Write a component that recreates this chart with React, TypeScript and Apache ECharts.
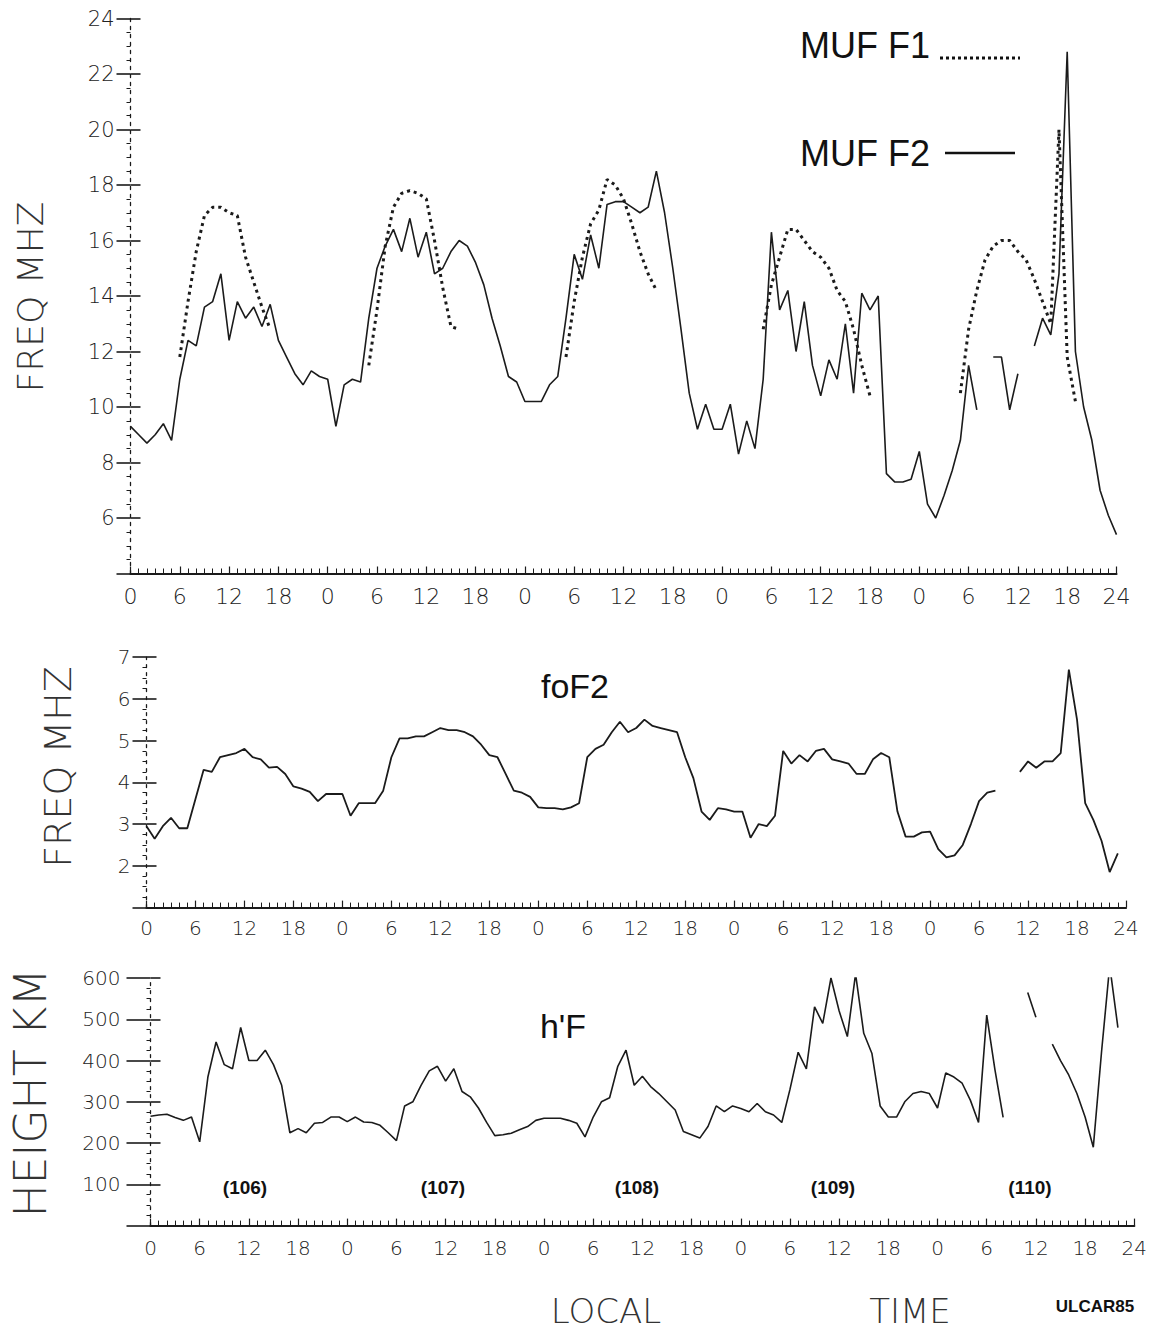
import React, { useEffect, useRef } from "react";
import * as echarts from "echarts";

// hour index 0..120 (five days of local time)
const HOURS: number[] = Array.from({ length: 121 }, (_, i) => i);

// MUF F2 (solid), MHz
const MUF_F2: (number | null)[] = [
  9.3, 9.0, 8.7, 9.0, 9.4, 8.8, 11.0, 12.4, 12.2, 13.6, 13.8, 14.8, 12.4, 13.8, 13.2, 13.6, 12.9, 13.7, 12.4, 11.8, 11.2, 10.8, 11.3, 11.1,
  11.0, 9.3, 10.8, 11.0, 10.9, 13.2, 15.0, 15.8, 16.4, 15.6, 16.8, 15.4, 16.3, 14.8, 15.0, 15.6, 16.0, 15.8, 15.2, 14.4, 13.2, 12.2, 11.1, 10.9,
  10.2, 10.2, 10.2, 10.8, 11.1, 13.2, 15.5, 14.6, 16.2, 15.0, 17.3, 17.4, 17.4, 17.2, 17.0, 17.2, 18.5, 17.0, 15.0, 12.8, 10.5, 9.2, 10.1, 9.2,
  9.2, 10.1, 8.3, 9.5, 8.5, 11.0, 16.3, 13.5, 14.2, 12.0, 13.8, 11.5, 10.4, 11.7, 11.0, 13.0, 10.5, 14.1, 13.5, 14.0, 7.6, 7.3, 7.3, 7.4,
  8.4, 6.5, 6.0, 6.8, 7.7, 8.8, 11.5, 9.9, null, 11.8, 11.8, 9.9, 11.2, null, 12.2, 13.2, 12.6, 14.8, 22.8, 12.0, 10.0, 8.8, 7.0, 6.1, 5.4,
];

// MUF F1 (dotted), MHz
const MUF_F1: (number | null)[] = [
  null, null, null, null, null, null, 11.8, 13.8, 15.6, 16.9, 17.2, 17.2, 17.0, 16.9, 15.4, 14.5, 13.6, 12.8, null, null, null, null, null, null,
  null, null, null, null, null, 11.5, 13.5, 15.8, 17.2, 17.7, 17.8, 17.7, 17.5, 16.0, 14.3, 12.9, 12.8, null, null, null, null, null, null, null,
  null, null, null, null, null, 11.8, 13.8, 15.4, 16.6, 17.1, 18.2, 18.0, 17.5, 16.6, 15.6, 14.8, 14.2, null, null, null, null, null, null, null,
  null, null, null, null, null, 12.8, 14.4, 15.4, 16.4, 16.4, 16.0, 15.6, 15.4, 15.0, 14.2, 13.8, 12.8, 11.5, 10.4, null, null, null, null, null,
  null, null, null, null, null, 10.5, 12.8, 14.2, 15.3, 15.8, 16.0, 16.0, 15.6, 15.3, 14.6, 13.8, 13.0, 20.0, 11.8, 10.2, null, null, null, null, null,
];

// foF2, MHz
const FOF2: (number | null)[] = [
  2.95, 2.65, 2.95, 3.15, 2.9, 2.9, 3.6, 4.3, 4.25, 4.6, 4.65, 4.7, 4.8, 4.6, 4.55, 4.35, 4.37, 4.2, 3.9, 3.85, 3.77, 3.55, 3.72, 3.72,
  3.72, 3.2, 3.5, 3.5, 3.5, 3.8, 4.6, 5.05, 5.05, 5.1, 5.1, 5.2, 5.3, 5.25, 5.25, 5.2, 5.1, 4.9, 4.65, 4.6, 4.2, 3.8, 3.75, 3.65,
  3.4, 3.38, 3.38, 3.35, 3.4, 3.5, 4.6, 4.8, 4.9, 5.2, 5.45, 5.2, 5.3, 5.5, 5.35, 5.3, 5.25, 5.2, 4.6, 4.1, 3.3, 3.1, 3.38, 3.35,
  3.3, 3.3, 2.67, 3.0, 2.95, 3.2, 4.75, 4.45, 4.65, 4.5, 4.75, 4.8, 4.55, 4.5, 4.45, 4.2, 4.2, 4.55, 4.7, 4.6, 3.3, 2.7, 2.7, 2.8,
  2.82, 2.4, 2.2, 2.25, 2.5, 3.0, 3.55, 3.75, 3.8, null, null, 4.25, 4.5, 4.35, 4.5, 4.5, 4.7, 6.7, 5.5, 3.5, 3.1, 2.6, 1.85, 2.3, null,
];

// h'F, km
const HPF: (number | null)[] = [
  265, 268, 270, 262, 255, 263, 203, 360, 445, 390, 380, 480, 400, 400, 425, 390, 340, 225, 235, 225, 248, 250, 263, 263,
  252, 263, 251, 250, 243, 225, 206, 290, 300, 340, 375, 386, 350, 380, 325, 312, 285, 250, 218, 220, 224, 232, 240, 255,
  260, 260, 260, 255, 248, 215, 263, 300, 310, 386, 425, 340, 362, 337, 320, 300, 280, 228, 220, 212, 240, 290, 276, 290,
  284, 276, 296, 276, 268, 250, 330, 420, 380, 530, 490, 600, 520, 458, 610, 466, 417, 290, 263, 263, 300, 320, 325, 320,
  285, 370, 360, 345, 304, 250, 510, 378, 262, null, null, 565, 505, null, 440, 400, 365, 320, 263, 190, 420, 630, 480, null, null,
];

const DAY_NUMBERS = ["(106)", "(107)", "(108)", "(109)", "(110)"];

const INK = "#1b1b1b";
const THIN_FONT = "DejaVu Sans";

function pairs(vals: (number | null)[]) {
  return HOURS.map((h, i) => [h, vals[i] == null ? "-" : vals[i]]);
}

function xAxis(gridIndex: number, fontSize: number, margin: number) {
  return {
    type: "value",
    gridIndex,
    min: 0,
    max: 120,
    interval: 6,
    axisLine: { show: true, lineStyle: { color: INK, width: 2.2 } },
    axisTick: { show: true, inside: true, length: 7, lineStyle: { color: INK, width: 1.2 } },
    minorTick: { show: true, splitNumber: 6, length: 5, lineStyle: { color: INK, width: 1 } },
    splitLine: { show: false },
    axisLabel: {
      fontFamily: THIN_FONT,
      fontWeight: 200,
      fontSize,
      color: "#222",
      margin,
      formatter: (v: number) => (v === 120 ? "24" : String(v % 24)),
    },
  };
}

function yAxis(
  gridIndex: number,
  min: number,
  max: number,
  interval: number,
  fontSize: number,
  tickLen: number,
  margin: number
) {
  return {
    type: "value",
    gridIndex,
    min,
    max,
    interval,
    axisLine: { show: true, lineStyle: { color: INK, width: 1.3, type: [3, 5] } },
    axisTick: { show: true, inside: false, length: tickLen, lineStyle: { color: INK, width: 1.6 } },
    minorTick: { show: true, splitNumber: 4, length: 4, lineStyle: { color: INK, width: 1 } },
    splitLine: { show: false },
    axisLabel: {
      fontFamily: THIN_FONT,
      fontWeight: 200,
      fontSize,
      color: "#222",
      margin,
      formatter: (v: number) => (v === min ? "" : String(v)),
    },
  };
}

function inTick(gridIndex: number, min: number, max: number, interval: number) {
  return {
    type: "value",
    gridIndex,
    min,
    max,
    interval,
    position: "left",
    axisLine: { show: false },
    axisTick: { show: true, inside: true, length: 10, lineStyle: { color: INK, width: 1.6 } },
    axisLabel: { show: false },
    splitLine: { show: false },
  };
}

export default function App() {
  const ref = useRef<HTMLDivElement>(null);

  useEffect(() => {
    if (!ref.current) return;
    const chart = echarts.init(ref.current, undefined, { renderer: "svg" });

    const dayTextX = [245, 443, 637, 833, 1030];

    const option: any = {
      animation: false,
      backgroundColor: "#ffffff",
      grid: [
        { left: 130.5, right: 44.5, top: 18.5, bottom: 758.5 },
        { left: 146.5, right: 35, top: 657, bottom: 424.4 },
        { left: 150.5, right: 26.7, top: 978, bottom: 106.4 },
      ],
      xAxis: [xAxis(0, 22, 12), xAxis(1, 20, 10), xAxis(2, 20, 12)],
      yAxis: [
        yAxis(0, 4, 24, 2, 21, 14, 16),
        yAxis(1, 1, 7, 1, 20, 14, 16),
        yAxis(2, 0, 600, 100, 20, 24, 30),
        inTick(0, 4, 24, 2),
        inTick(1, 1, 7, 1),
        inTick(2, 0, 600, 100),
      ],
      series: [
        {
          name: "MUF F2",
          type: "line",
          xAxisIndex: 0,
          yAxisIndex: 0,
          data: pairs(MUF_F2),
          showSymbol: false,
          connectNulls: false,
          lineStyle: { color: INK, width: 1.6 },
        },
        {
          name: "MUF F1",
          type: "line",
          xAxisIndex: 0,
          yAxisIndex: 0,
          data: pairs(MUF_F1),
          showSymbol: false,
          connectNulls: false,
          lineStyle: { color: INK, width: 3, type: [3, 4] },
        },
        {
          name: "foF2",
          type: "line",
          xAxisIndex: 1,
          yAxisIndex: 1,
          data: pairs(FOF2),
          showSymbol: false,
          connectNulls: false,
          lineStyle: { color: INK, width: 1.8 },
        },
        {
          name: "h'F",
          type: "line",
          xAxisIndex: 2,
          yAxisIndex: 2,
          data: pairs(HPF),
          showSymbol: false,
          connectNulls: false,
          lineStyle: { color: INK, width: 1.6 },
        },
      ],
      graphic: [
        {
          type: "text",
          x: 30,
          y: 297,
          rotation: Math.PI / 2,
          style: {
            text: "FREQ MHZ",
            fontFamily: THIN_FONT,
            fontWeight: 200,
            fontSize: 36,
            fill: "#333",
            align: "center",
            verticalAlign: "middle",
          },
        },
        {
          type: "text",
          x: 58,
          y: 767,
          rotation: Math.PI / 2,
          style: {
            text: "FREQ MHZ",
            fontFamily: THIN_FONT,
            fontWeight: 200,
            fontSize: 38,
            fill: "#333",
            align: "center",
            verticalAlign: "middle",
          },
        },
        {
          type: "text",
          x: 30,
          y: 1093,
          rotation: Math.PI / 2,
          style: {
            text: "HEIGHT KM",
            fontFamily: THIN_FONT,
            fontWeight: 200,
            fontSize: 44,
            fill: "#333",
            align: "center",
            verticalAlign: "middle",
          },
        },
        {
          type: "text",
          x: 800,
          y: 45,
          style: {
            text: "MUF F1",
            fontFamily: "Liberation Sans",
            fontSize: 36,
            fill: "#111",
            align: "left",
            verticalAlign: "middle",
          },
        },
        {
          type: "line",
          shape: { x1: 940, y1: 58, x2: 1020, y2: 58 },
          style: { stroke: "#111", lineWidth: 3, lineDash: [3, 3] },
        },
        {
          type: "text",
          x: 800,
          y: 153,
          style: {
            text: "MUF F2",
            fontFamily: "Liberation Sans",
            fontSize: 36,
            fill: "#111",
            align: "left",
            verticalAlign: "middle",
          },
        },
        {
          type: "line",
          shape: { x1: 945, y1: 153, x2: 1015, y2: 153 },
          style: { stroke: "#111", lineWidth: 2.5 },
        },
        {
          type: "text",
          x: 575,
          y: 686,
          style: {
            text: "foF2",
            fontFamily: "Liberation Sans",
            fontSize: 34,
            fill: "#111",
            align: "center",
            verticalAlign: "middle",
          },
        },
        {
          type: "text",
          x: 563,
          y: 1026,
          style: {
            text: "h'F",
            fontFamily: "Liberation Sans",
            fontSize: 34,
            fill: "#111",
            align: "center",
            verticalAlign: "middle",
          },
        },
        ...DAY_NUMBERS.map((t, i) => ({
          type: "text",
          x: dayTextX[i],
          y: 1187,
          style: {
            text: t,
            fontFamily: "Liberation Sans",
            fontWeight: "bold",
            fontSize: 19,
            fill: "#111",
            align: "center",
            verticalAlign: "middle",
          },
        })),
        {
          type: "text",
          x: 606,
          y: 1311,
          style: {
            text: "LOCAL",
            fontFamily: THIN_FONT,
            fontWeight: 200,
            fontSize: 34,
            fill: "#333",
            align: "center",
            verticalAlign: "middle",
          },
        },
        {
          type: "text",
          x: 910,
          y: 1311,
          style: {
            text: "TIME",
            fontFamily: THIN_FONT,
            fontWeight: 200,
            fontSize: 34,
            fill: "#333",
            align: "center",
            verticalAlign: "middle",
          },
        },
        {
          type: "text",
          x: 1095,
          y: 1306,
          style: {
            text: "ULCAR85",
            fontFamily: "Liberation Sans",
            fontWeight: "bold",
            fontSize: 17,
            fill: "#111",
            align: "center",
            verticalAlign: "middle",
          },
        },
      ],
    };

    chart.setOption(option);
    return () => chart.dispose();
  }, []);

  return (
    <div
      ref={ref}
      style={{ position: "fixed", left: 0, top: 0, width: 1161, height: 1332, background: "#fff" }}
    />
  );
}
